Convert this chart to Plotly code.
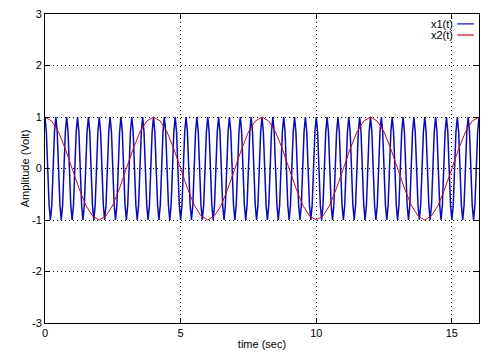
import numpy as np
import plotly.graph_objects as go

# sampling instants (s)
t1 = np.round(np.arange(0, 16.0001, 0.05), 2)   # x1 samples
t2 = np.round(np.arange(0, 16.0001, 0.25), 2)   # x2 samples

# x1(t): fast oscillation (about 2.5 cycles per second)
x1 = [
    1, 0.71, 0, -0.71, -1, -0.71, 0, 0.71,
    1, 0.71, 0, -0.71, -1, -0.71, 0, 0.71,
    1, 0.71, 0, -0.71, -1, -0.71, 0, 0.71,
    1, 0.71, 0, -0.71, -1, -0.71, 0, 0.71,
    1, 0.71, 0, -0.71, -1, -0.71, 0, 0.71,
    1, 0.71, 0, -0.71, -1, -0.71, 0, 0.71,
    1, 0.71, 0, -0.71, -1, -0.71, 0, 0.71,
    1, 0.71, 0, -0.71, -1, -0.71, 0, 0.71,
    1, 0.71, 0, -0.71, -1, -0.71, 0, 0.71,
    1, 0.71, 0, -0.71, -1, -0.71, 0, 0.71,
    1, 0.71, 0, -0.71, -1, -0.71, 0, 0.71,
    1, 0.71, 0, -0.71, -1, -0.71, 0, 0.71,
    1, 0.71, 0, -0.71, -1, -0.71, 0, 0.71,
    1, 0.71, 0, -0.71, -1, -0.71, 0, 0.71,
    1, 0.71, 0, -0.71, -1, -0.71, 0, 0.71,
    1, 0.71, 0, -0.71, -1, -0.71, 0, 0.71,
    1, 0.71, 0, -0.71, -1, -0.71, 0, 0.71,
    1, 0.71, 0, -0.71, -1, -0.71, 0, 0.71,
    1, 0.71, 0, -0.71, -1, -0.71, 0, 0.71,
    1, 0.71, 0, -0.71, -1, -0.71, 0, 0.71,
    1, 0.71, 0, -0.71, -1, -0.71, 0, 0.71,
    1, 0.71, 0, -0.71, -1, -0.71, 0, 0.71,
    1, 0.71, 0, -0.71, -1, -0.71, 0, 0.71,
    1, 0.71, 0, -0.71, -1, -0.71, 0, 0.71,
    1, 0.71, 0, -0.71, -1, -0.71, 0, 0.71,
    1, 0.71, 0, -0.71, -1, -0.71, 0, 0.71,
    1, 0.71, 0, -0.71, -1, -0.71, 0, 0.71,
    1, 0.71, 0, -0.71, -1, -0.71, 0, 0.71,
    1, 0.71, 0, -0.71, -1, -0.71, 0, 0.71,
    1, 0.71, 0, -0.71, -1, -0.71, 0, 0.71,
    1, 0.71, 0, -0.71, -1, -0.71, 0, 0.71,
    1, 0.71, 0, -0.71, -1, -0.71, 0, 0.71,
    1, 0.71, 0, -0.71, -1, -0.71, 0, 0.71,
    1, 0.71, 0, -0.71, -1, -0.71, 0, 0.71,
    1, 0.71, 0, -0.71, -1, -0.71, 0, 0.71,
    1, 0.71, 0, -0.71, -1, -0.71, 0, 0.71,
    1, 0.71, 0, -0.71, -1, -0.71, 0, 0.71,
    1, 0.71, 0, -0.71, -1, -0.71, 0, 0.71,
    1, 0.71, 0, -0.71, -1, -0.71, 0, 0.71,
    1, 0.71, 0, -0.71, -1, -0.71, 0, 0.71,
    1,
]

# x2(t): slow oscillation, period 4 s
x2 = [
    1, 0.92, 0.71, 0.38, 0, -0.38, -0.71, -0.92,
    -1, -0.92, -0.71, -0.38, 0, 0.38, 0.71, 0.92,
    1, 0.92, 0.71, 0.38, 0, -0.38, -0.71, -0.92,
    -1, -0.92, -0.71, -0.38, 0, 0.38, 0.71, 0.92,
    1, 0.92, 0.71, 0.38, 0, -0.38, -0.71, -0.92,
    -1, -0.92, -0.71, -0.38, 0, 0.38, 0.71, 0.92,
    1, 0.92, 0.71, 0.38, 0, -0.38, -0.71, -0.92,
    -1, -0.92, -0.71, -0.38, 0, 0.38, 0.71, 0.92,
    1,
]

series_names = ["x1(t)", "x2(t)"]
x_ticks = [0, 5, 10, 15]
x_tick_labels = ["0", "5", "10", "15"]
y_ticks = [-3, -2, -1, 0, 1, 2, 3]
y_tick_labels = ["-3", "-2", "-1", "0", "1", "2", "3"]

BLUE = "rgb(10,10,180)"
RED = "rgb(200,10,30)"
FONT = "Liberation Sans, Arial, sans-serif"

fig = go.Figure()
fig.add_trace(go.Scatter(x=t1, y=x1, mode="lines", name=series_names[0],
                         line=dict(color=BLUE, width=1.5), showlegend=False))
fig.add_trace(go.Scatter(x=t2, y=x2, mode="lines", name=series_names[1],
                         line=dict(color=RED, width=1.0), showlegend=False))

axis_common = dict(
    showline=True, linecolor="black", linewidth=1, mirror="ticks",
    ticks="inside", ticklen=5, tickcolor="black", tickwidth=1,
    showgrid=True, gridcolor="black", gridwidth=1, griddash="1px,3px",
    zeroline=False, tickfont=dict(family=FONT, size=11, color="black"),
)

fig.update_xaxes(range=[0, 16], tickvals=x_ticks, ticktext=x_tick_labels,
                 title=dict(text="time (sec)", font=dict(family=FONT, size=11, color="black"), standoff=2),
                 **axis_common)
fig.update_yaxes(range=[-3, 3], tickvals=y_ticks, ticktext=y_tick_labels,
                 title=dict(text="Amplitude (Volt)", font=dict(family=FONT, size=11, color="black"), standoff=0),
                 **axis_common)

# legend drawn like the original: label on the left, line sample on the right
legend_rows = [0.968, 0.932]
for name, color, yy in zip(series_names, [BLUE, RED], legend_rows):
    fig.add_annotation(xref="paper", yref="paper", x=0.945, y=yy, text=name,
                       showarrow=False, xanchor="right", yanchor="middle",
                       font=dict(family=FONT, size=11, color="black"))
    fig.add_shape(type="line", xref="paper", yref="paper",
                  x0=0.95, x1=0.988, y0=yy, y1=yy,
                  line=dict(color=color, width=1.2))

fig.update_layout(
    width=504, height=363,
    margin=dict(l=45, r=25, t=14, b=40, autoexpand=False),
    paper_bgcolor="white", plot_bgcolor="white",
    font=dict(family=FONT, size=11, color="black"),
)

fig.write_html("out.html", config={"displayModeBar": False},
               post_script="document.body.style.margin='0';")
